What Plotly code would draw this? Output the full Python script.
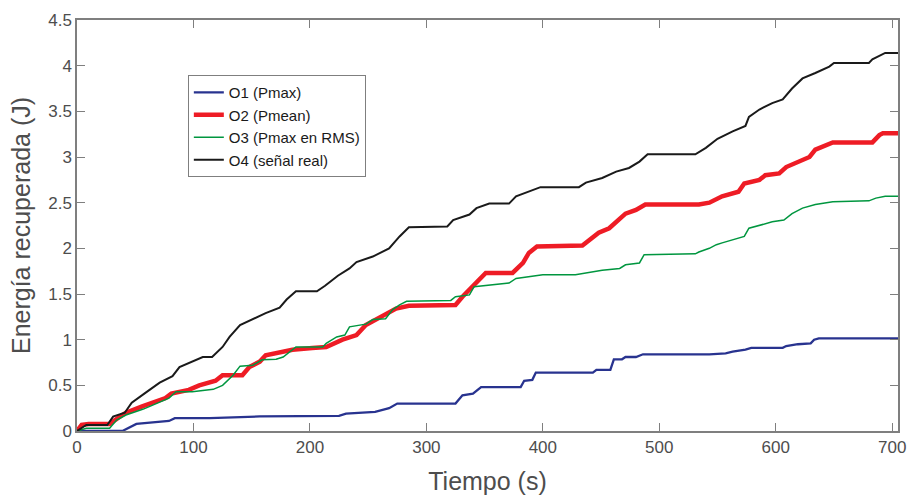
import plotly.graph_objects as go

# O1 (Pmax)
o1_t = [0, 39, 51, 79, 84, 114, 157, 185, 225, 231, 243, 256, 268, 275, 325, 331, 340, 347, 381, 384, 391, 394, 443, 446, 458, 461, 468, 471, 480, 486, 543, 557, 563, 574, 579, 606, 609, 619, 630, 633, 637, 705]
o1_e = [0, 0, 0.077, 0.11, 0.14, 0.14, 0.16, 0.165, 0.165, 0.19, 0.20, 0.21, 0.25, 0.30, 0.30, 0.39, 0.41, 0.48, 0.48, 0.55, 0.56, 0.64, 0.64, 0.67, 0.67, 0.785, 0.785, 0.81, 0.81, 0.84, 0.84, 0.85, 0.87, 0.89, 0.91, 0.91, 0.93, 0.95, 0.96, 1.0, 1.015, 1.015]

# O2 (Pmean)
o2_t = [0, 4, 10, 28, 35, 42, 56, 68, 76, 81, 96, 105, 119, 125, 142, 148, 157, 162, 174, 185, 202, 214, 228, 240, 248, 257, 265, 274, 285, 325, 331, 338, 345, 351, 374, 383, 388, 395, 434, 443, 448, 457, 465, 471, 480, 488, 534, 543, 554, 568, 573, 586, 591, 603, 609, 620, 629, 634, 643, 649, 683, 689, 692, 705]
o2_e = [0, 0.066, 0.077, 0.077, 0.14, 0.20, 0.27, 0.32, 0.36, 0.41, 0.45, 0.50, 0.55, 0.61, 0.61, 0.70, 0.76, 0.83, 0.86, 0.89, 0.91, 0.92, 1.0, 1.05, 1.16, 1.22, 1.27, 1.34, 1.37, 1.38, 1.47, 1.56, 1.65, 1.73, 1.73, 1.84, 1.95, 2.02, 2.03, 2.13, 2.17, 2.22, 2.31, 2.38, 2.42, 2.48, 2.48, 2.50, 2.57, 2.62, 2.71, 2.75, 2.80, 2.82, 2.89, 2.95, 3.00, 3.08, 3.13, 3.16, 3.16, 3.24, 3.26, 3.26]

# O3 (Pmax en RMS)
o3_t = [0, 8, 28, 34, 42, 57, 79, 85, 99, 117, 125, 134, 140, 151, 159, 171, 177, 188, 211, 214, 223, 230, 234, 248, 254, 265, 271, 277, 283, 321, 325, 337, 341, 371, 377, 400, 428, 451, 466, 471, 483, 487, 531, 534, 543, 549, 554, 573, 577, 586, 597, 607, 614, 623, 634, 649, 680, 686, 694, 705]
o3_e = [0, 0.03, 0.03, 0.12, 0.175, 0.24, 0.36, 0.43, 0.43, 0.456, 0.50, 0.61, 0.71, 0.72, 0.78, 0.785, 0.81, 0.92, 0.92, 0.96, 1.03, 1.05, 1.14, 1.17, 1.22, 1.23, 1.33, 1.38, 1.42, 1.43, 1.47, 1.49, 1.58, 1.62, 1.67, 1.71, 1.71, 1.76, 1.78, 1.82, 1.84, 1.93, 1.94, 1.96, 2.0, 2.04, 2.06, 2.13, 2.22, 2.25, 2.29, 2.31, 2.38, 2.44, 2.48, 2.51, 2.52, 2.55, 2.57, 2.57]

# O4 (señal real)
o4_t = [0, 8, 26, 31, 41, 47, 59, 71, 82, 88, 108, 116, 125, 131, 140, 155, 162, 174, 180, 188, 206, 213, 224, 234, 240, 254, 268, 277, 285, 318, 323, 337, 343, 354, 371, 377, 388, 398, 431, 437, 451, 463, 474, 483, 490, 531, 540, 550, 563, 574, 577, 586, 597, 606, 614, 623, 634, 646, 650, 680, 683, 692, 694, 705]
o4_e = [0, 0.066, 0.066, 0.157, 0.20, 0.31, 0.42, 0.53, 0.60, 0.70, 0.81, 0.81, 0.92, 1.03, 1.16, 1.25, 1.29, 1.35, 1.44, 1.53, 1.53, 1.59, 1.70, 1.78, 1.85, 1.91, 2.0, 2.13, 2.23, 2.24, 2.31, 2.37, 2.44, 2.49, 2.49, 2.57, 2.62, 2.67, 2.67, 2.72, 2.77, 2.84, 2.88, 2.95, 3.03, 3.03, 3.10, 3.20, 3.28, 3.34, 3.44, 3.52, 3.59, 3.63, 3.75, 3.86, 3.92, 3.99, 4.03, 4.03, 4.07, 4.12, 4.14, 4.14]

names = ["O1 (Pmax)", "O2 (Pmean)", "O3 (Pmax en RMS)", "O4 (señal real)"]
colors = ["#28338f", "#ee1c25", "#00963f", "#1a1a1a"]
widths = [2.3, 4.5, 1.5, 2]

x_ticks = [0, 100, 200, 300, 400, 500, 600, 700]
y_ticks = [0, 0.5, 1, 1.5, 2, 2.5, 3, 3.5, 4, 4.5]
y_tick_text = ["0", "0.5", "1", "1.5", "2", "2.5", "3", "3.5", "4", "4.5"]

fig = go.Figure()
for t, e, n, c, w in zip([o1_t, o2_t, o3_t, o4_t], [o1_e, o2_e, o3_e, o4_e], names, colors, widths):
    fig.add_trace(go.Scatter(x=t, y=e, mode="lines", name=n,
                             line=dict(color=c, width=w)))

axis_common = dict(showgrid=False, zeroline=False, showline=True, mirror="ticks",
                   linecolor="#7f7f7f", linewidth=1.5, ticks="inside", ticklen=8,
                   tickcolor="#7f7f7f", tickwidth=1, automargin=False,
                   tickfont=dict(family="Liberation Sans, Arial, sans-serif", size=17, color="#4d4d4d"))

fig.update_layout(
    width=908, height=495,
    margin=dict(l=77, r=10, t=20, b=64),
    paper_bgcolor="white", plot_bgcolor="white",
    font=dict(family="Liberation Sans, Arial, sans-serif"),
    xaxis=dict(range=[0, 705], tickvals=x_ticks,
               title=dict(text="Tiempo (s)", font=dict(size=25, color="#4d4d4d"), standoff=18),
               **axis_common),
    yaxis=dict(range=[0, 4.5], tickvals=y_ticks, ticktext=y_tick_text,
               title=dict(text="Energía recuperada (J)", font=dict(size=25, color="#4d4d4d"), standoff=10),
               **axis_common),
    legend=dict(x=0.135, y=0.866, xanchor="left", yanchor="top",
                bgcolor="white", bordercolor="#7f7f7f", borderwidth=1,
                font=dict(size=15, color="#1a1a1a"), tracegroupgap=0, itemwidth=30),
    showlegend=True,
)

fig.write_html("out.html", config={"displayModeBar": False},
               post_script="document.body.style.margin='0';document.body.style.overflow='hidden';")
